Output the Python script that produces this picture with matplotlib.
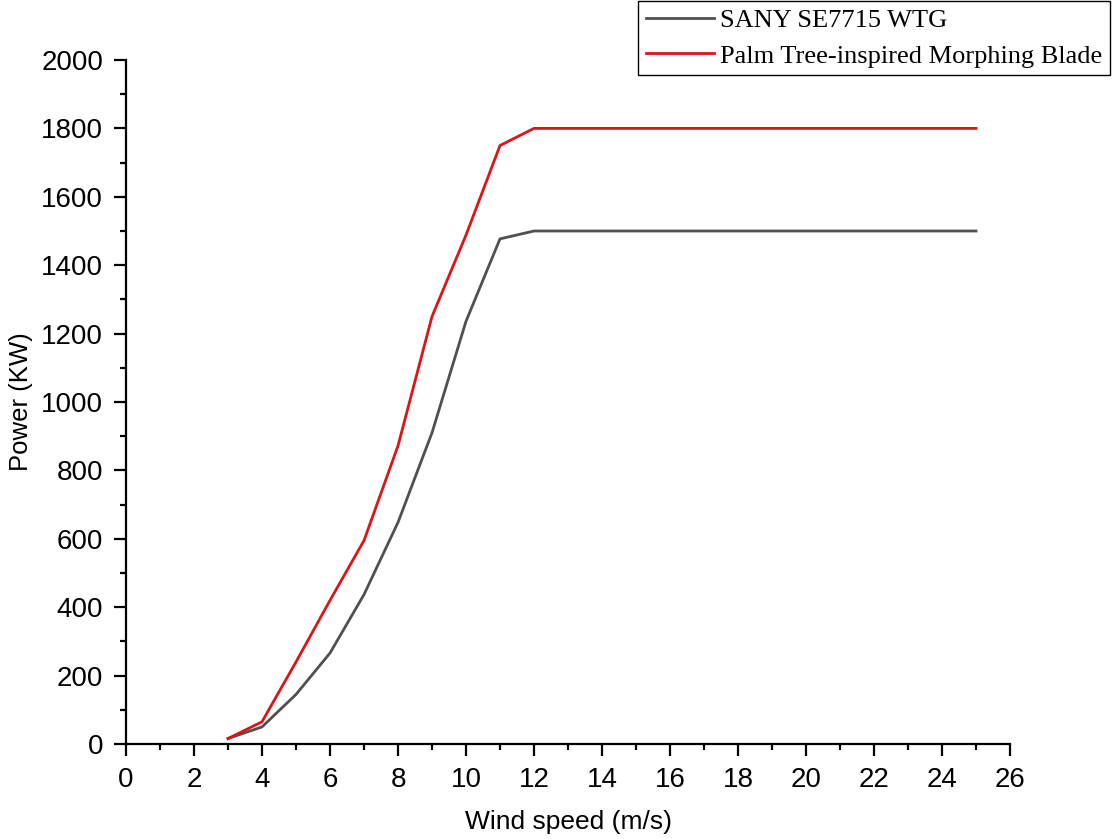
import numpy as np
import matplotlib.pyplot as plt
from matplotlib.ticker import MultipleLocator

# Wind speed (m/s) and power (KW)
wind = [3, 4, 5, 6, 7, 8, 9, 10, 11, 12, 13, 14, 15, 16, 17, 18, 19, 20, 21, 22, 23, 24, 25]
power_sany = [16, 50, 145, 266, 437, 648, 910, 1236, 1477, 1500, 1500, 1500, 1500, 1500,
              1500, 1500, 1500, 1500, 1500, 1500, 1500, 1500, 1500]
power_palm = [16, 65, 240, 420, 595, 872, 1250, 1488, 1750, 1800, 1800, 1800, 1800, 1800,
              1800, 1800, 1800, 1800, 1800, 1800, 1800, 1800, 1800]

plt.rcParams['font.family'] = ['Liberation Sans', 'DejaVu Sans']

fig = plt.figure(figsize=(11.12, 8.39), dpi=100)
ax = fig.add_axes([0.1133, 0.1132, 0.795, 0.8153])

ax.plot(wind, power_sany, color='#505050', lw=2.0, label='SANY SE7715 WTG')
ax.plot(wind, power_palm, color='#dc1418', lw=2.0, label='Palm Tree-inspired Morphing Blade')

ax.set_xlim(0, 26)
ax.set_ylim(0, 2000)
ax.xaxis.set_major_locator(MultipleLocator(2))
ax.xaxis.set_minor_locator(MultipleLocator(1))
ax.yaxis.set_major_locator(MultipleLocator(200))
ax.yaxis.set_minor_locator(MultipleLocator(100))

for s in ['top', 'right']:
    ax.spines[s].set_visible(False)
for s in ['left', 'bottom']:
    ax.spines[s].set_linewidth(1.6)
ax.tick_params(which='major', length=8.5, width=1.6, labelsize=20, pad=8)
ax.tick_params(which='minor', length=4.5, width=1.6)

ax.set_xlabel('Wind speed (m/s)', fontsize=19, labelpad=12)
ax.set_ylabel('Power (KW)', fontsize=18.5)
ax.yaxis.set_label_coords(-0.105, 0.5)

leg = fig.legend(loc='upper right', bbox_to_anchor=(0.998, 0.999), bbox_transform=fig.transFigure,
                 fancybox=False, edgecolor='black', framealpha=1,
                 prop={'family': 'Liberation Serif', 'size': 19},
                 handlelength=2.6, borderpad=0.3, labelspacing=0.45, handletextpad=0.2,
                 borderaxespad=0)
leg.get_frame().set_linewidth(1.0)

fig.savefig('out.png', dpi=100)
